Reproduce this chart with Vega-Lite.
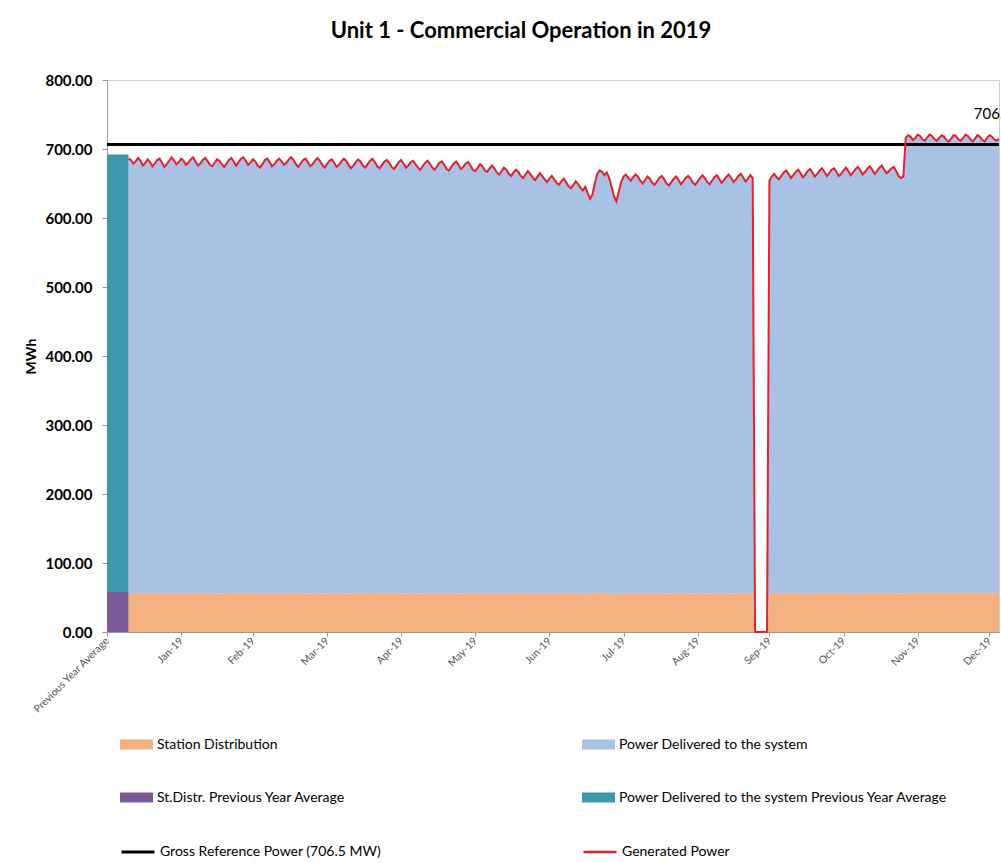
{
"$schema":"https://vega.github.io/schema/vega-lite/v6.json",
"width":892,"height":552,
"autosize":{"type":"none"},
"padding":{"left":107,"top":80,"right":2,"bottom":231},
"background":"white",
"config":{"view":{"stroke":"#cfcfcf","strokeWidth":1},"font":"Lato",
"legend":{"labelFont":"Lato","labelFontSize":14,"labelColor":"#000","symbolSize":1089,"labelOffset":4,"padding":0,"orient":"none","labelLimit":600},
"axis":{"grid":false}},
"title":{"text":"Unit 1 - Commercial Operation in 2019","font":"Lato","fontSize":22,"fontWeight":"bold","color":"#000","anchor":"middle","frame":"group","dx":-32,"offset":30},
"datasets":{
"daily":[
{"d":0,"g":686,"s":56},{"d":1,"g":684,"s":57},{"d":2,"g":679,"s":56},{"d":3,"g":682,"s":55},{"d":4,"g":687,"s":56},{"d":5,"g":683,"s":57},{"d":6,"g":676,"s":56},{"d":7,"g":680,"s":56},{"d":8,"g":685,"s":57},{"d":9,"g":681,"s":56},{"d":10,"g":675,"s":55},{"d":11,"g":679,"s":56},{"d":12,"g":684,"s":57},{"d":13,"g":686,"s":57},{"d":14,"g":680,"s":56},{"d":15,"g":674,"s":55},{"d":16,"g":678,"s":56},{"d":17,"g":683,"s":57},{"d":18,"g":688,"s":56},{"d":19,"g":684,"s":56},{"d":20,"g":678,"s":55},{"d":21,"g":681,"s":56},{"d":22,"g":686,"s":57},{"d":23,"g":683,"s":56},{"d":24,"g":677,"s":55},{"d":25,"g":680,"s":56},{"d":26,"g":685,"s":57},{"d":27,"g":688,"s":57},{"d":28,"g":682,"s":56},{"d":29,"g":676,"s":55},{"d":30,"g":679,"s":56},
{"d":31,"g":684,"s":57},{"d":32,"g":687,"s":56},{"d":33,"g":683,"s":56},{"d":34,"g":677,"s":55},{"d":35,"g":675,"s":56},{"d":36,"g":680,"s":57},{"d":37,"g":685,"s":56},{"d":38,"g":683,"s":56},{"d":39,"g":678,"s":55},{"d":40,"g":674,"s":56},{"d":41,"g":679,"s":57},{"d":42,"g":684,"s":56},{"d":43,"g":687,"s":57},{"d":44,"g":682,"s":56},{"d":45,"g":676,"s":55},{"d":46,"g":681,"s":56},{"d":47,"g":686,"s":57},{"d":48,"g":688,"s":56},{"d":49,"g":683,"s":56},{"d":50,"g":677,"s":55},{"d":51,"g":680,"s":56},{"d":52,"g":685,"s":57},{"d":53,"g":682,"s":56},{"d":54,"g":676,"s":55},{"d":55,"g":673,"s":56},{"d":56,"g":678,"s":56},{"d":57,"g":684,"s":57},{"d":58,"g":686,"s":56},
{"d":59,"g":681,"s":56},{"d":60,"g":675,"s":55},{"d":61,"g":678,"s":56},{"d":62,"g":683,"s":57},{"d":63,"g":686,"s":56},{"d":64,"g":682,"s":56},{"d":65,"g":677,"s":55},{"d":66,"g":680,"s":56},{"d":67,"g":685,"s":57},{"d":68,"g":688,"s":57},{"d":69,"g":684,"s":56},{"d":70,"g":678,"s":55},{"d":71,"g":674,"s":56},{"d":72,"g":679,"s":56},{"d":73,"g":684,"s":57},{"d":74,"g":686,"s":56},{"d":75,"g":681,"s":56},{"d":76,"g":675,"s":55},{"d":77,"g":678,"s":56},{"d":78,"g":683,"s":57},{"d":79,"g":687,"s":56},{"d":80,"g":683,"s":56},{"d":81,"g":677,"s":55},{"d":82,"g":673,"s":56},{"d":83,"g":678,"s":56},{"d":84,"g":683,"s":57},{"d":85,"g":685,"s":56},{"d":86,"g":680,"s":56},{"d":87,"g":674,"s":55},{"d":88,"g":677,"s":56},{"d":89,"g":682,"s":57},
{"d":90,"g":686,"s":56},{"d":91,"g":683,"s":56},{"d":92,"g":677,"s":55},{"d":93,"g":672,"s":56},{"d":94,"g":676,"s":56},{"d":95,"g":681,"s":57},{"d":96,"g":685,"s":56},{"d":97,"g":682,"s":56},{"d":98,"g":676,"s":55},{"d":99,"g":673,"s":56},{"d":100,"g":678,"s":57},{"d":101,"g":683,"s":56},{"d":102,"g":686,"s":57},{"d":103,"g":681,"s":56},{"d":104,"g":675,"s":55},{"d":105,"g":672,"s":56},{"d":106,"g":677,"s":56},{"d":107,"g":682,"s":57},{"d":108,"g":684,"s":56},{"d":109,"g":680,"s":56},{"d":110,"g":674,"s":55},{"d":111,"g":671,"s":56},{"d":112,"g":676,"s":56},{"d":113,"g":681,"s":57},{"d":114,"g":684,"s":56},{"d":115,"g":679,"s":56},{"d":116,"g":673,"s":55},{"d":117,"g":676,"s":56},{"d":118,"g":681,"s":57},{"d":119,"g":683,"s":56},
{"d":120,"g":678,"s":56},{"d":121,"g":673,"s":55},{"d":122,"g":670,"s":56},{"d":123,"g":675,"s":56},{"d":124,"g":680,"s":57},{"d":125,"g":683,"s":56},{"d":126,"g":679,"s":56},{"d":127,"g":673,"s":55},{"d":128,"g":670,"s":56},{"d":129,"g":675,"s":56},{"d":130,"g":680,"s":57},{"d":131,"g":682,"s":56},{"d":132,"g":677,"s":56},{"d":133,"g":671,"s":55},{"d":134,"g":669,"s":56},{"d":135,"g":674,"s":56},{"d":136,"g":679,"s":57},{"d":137,"g":682,"s":56},{"d":138,"g":677,"s":56},{"d":139,"g":671,"s":55},{"d":140,"g":674,"s":56},{"d":141,"g":679,"s":57},{"d":142,"g":681,"s":56},{"d":143,"g":676,"s":56},{"d":144,"g":670,"s":55},{"d":145,"g":668,"s":56},{"d":146,"g":673,"s":56},{"d":147,"g":678,"s":57},{"d":148,"g":675,"s":56},{"d":149,"g":669,"s":55},{"d":150,"g":667,"s":56},
{"d":151,"g":672,"s":56},{"d":152,"g":676,"s":57},{"d":153,"g":672,"s":56},{"d":154,"g":666,"s":55},{"d":155,"g":663,"s":56},{"d":156,"g":668,"s":56},{"d":157,"g":673,"s":57},{"d":158,"g":670,"s":56},{"d":159,"g":664,"s":55},{"d":160,"g":661,"s":56},{"d":161,"g":666,"s":56},{"d":162,"g":670,"s":57},{"d":163,"g":667,"s":56},{"d":164,"g":661,"s":55},{"d":165,"g":658,"s":56},{"d":166,"g":663,"s":56},{"d":167,"g":668,"s":57},{"d":168,"g":664,"s":56},{"d":169,"g":659,"s":55},{"d":170,"g":655,"s":56},{"d":171,"g":660,"s":56},{"d":172,"g":665,"s":57},{"d":173,"g":661,"s":56},{"d":174,"g":656,"s":55},{"d":175,"g":652,"s":56},{"d":176,"g":657,"s":56},{"d":177,"g":661,"s":57},{"d":178,"g":656,"s":56},{"d":179,"g":651,"s":55},{"d":180,"g":648,"s":56},
{"d":181,"g":653,"s":56},{"d":182,"g":657,"s":57},{"d":183,"g":652,"s":56},{"d":184,"g":646,"s":55},{"d":185,"g":643,"s":56},{"d":186,"g":648,"s":56},{"d":187,"g":653,"s":57},{"d":188,"g":649,"s":56},{"d":189,"g":644,"s":55},{"d":190,"g":640,"s":56},{"d":191,"g":645,"s":56},{"d":192,"g":636,"s":55},{"d":193,"g":628,"s":55},{"d":194,"g":634,"s":56},{"d":195,"g":650,"s":56},{"d":196,"g":664,"s":57},{"d":197,"g":669,"s":57},{"d":198,"g":667,"s":56},{"d":199,"g":662,"s":56},{"d":200,"g":666,"s":57},{"d":201,"g":658,"s":56},{"d":202,"g":645,"s":55},{"d":203,"g":632,"s":55},{"d":204,"g":624,"s":55},{"d":205,"g":638,"s":56},{"d":206,"g":652,"s":56},{"d":207,"g":660,"s":57},{"d":208,"g":663,"s":56},{"d":209,"g":658,"s":56},{"d":210,"g":654,"s":55},{"d":211,"g":659,"s":56},
{"d":212,"g":663,"s":57},{"d":213,"g":660,"s":56},{"d":214,"g":654,"s":55},{"d":215,"g":650,"s":56},{"d":216,"g":655,"s":56},{"d":217,"g":660,"s":57},{"d":218,"g":657,"s":56},{"d":219,"g":651,"s":55},{"d":220,"g":648,"s":56},{"d":221,"g":653,"s":56},{"d":222,"g":658,"s":57},{"d":223,"g":661,"s":56},{"d":224,"g":656,"s":56},{"d":225,"g":650,"s":55},{"d":226,"g":647,"s":56},{"d":227,"g":652,"s":56},{"d":228,"g":657,"s":57},{"d":229,"g":660,"s":56},{"d":230,"g":655,"s":56},{"d":231,"g":649,"s":55},{"d":232,"g":653,"s":56},{"d":233,"g":658,"s":57},{"d":234,"g":661,"s":56},{"d":235,"g":657,"s":56},{"d":236,"g":651,"s":55},{"d":237,"g":648,"s":56},{"d":238,"g":653,"s":56},{"d":239,"g":658,"s":57},{"d":240,"g":662,"s":56},{"d":241,"g":658,"s":56},{"d":242,"g":652,"s":55},
{"d":243,"g":649,"s":56},{"d":244,"g":654,"s":56},{"d":245,"g":659,"s":57},{"d":246,"g":662,"s":56},{"d":247,"g":657,"s":56},{"d":248,"g":651,"s":55},{"d":249,"g":655,"s":56},{"d":250,"g":660,"s":57},{"d":251,"g":663,"s":56},{"d":252,"g":658,"s":56},{"d":253,"g":652,"s":55},{"d":254,"g":656,"s":56},{"d":255,"g":661,"s":57},{"d":256,"g":664,"s":56},{"d":257,"g":659,"s":56},{"d":258,"g":653,"s":55},{"d":259,"g":657,"s":56},{"d":260,"g":662,"s":57},{"d":261,"g":658,"s":56},{"d":262,"g":0,"s":0},{"d":263,"g":0,"s":0},{"d":264,"g":0,"s":0},{"d":265,"g":0,"s":0},{"d":266,"g":0,"s":0},{"d":267,"g":0,"s":0},{"d":268,"g":654,"s":56},{"d":269,"g":660,"s":57},{"d":270,"g":664,"s":56},{"d":271,"g":659,"s":56},{"d":272,"g":656,"s":55},
{"d":273,"g":661,"s":56},{"d":274,"g":666,"s":57},{"d":275,"g":669,"s":56},{"d":276,"g":664,"s":56},{"d":277,"g":658,"s":55},{"d":278,"g":662,"s":56},{"d":279,"g":667,"s":57},{"d":280,"g":670,"s":56},{"d":281,"g":665,"s":56},{"d":282,"g":659,"s":55},{"d":283,"g":663,"s":56},{"d":284,"g":668,"s":57},{"d":285,"g":671,"s":56},{"d":286,"g":666,"s":56},{"d":287,"g":660,"s":55},{"d":288,"g":664,"s":56},{"d":289,"g":669,"s":57},{"d":290,"g":672,"s":56},{"d":291,"g":667,"s":56},{"d":292,"g":661,"s":55},{"d":293,"g":665,"s":56},{"d":294,"g":670,"s":57},{"d":295,"g":672,"s":56},{"d":296,"g":667,"s":56},{"d":297,"g":661,"s":55},{"d":298,"g":664,"s":56},{"d":299,"g":669,"s":57},{"d":300,"g":673,"s":56},{"d":301,"g":668,"s":56},{"d":302,"g":662,"s":55},{"d":303,"g":666,"s":56},
{"d":304,"g":671,"s":57},{"d":305,"g":674,"s":56},{"d":306,"g":669,"s":56},{"d":307,"g":663,"s":55},{"d":308,"g":667,"s":56},{"d":309,"g":672,"s":57},{"d":310,"g":675,"s":56},{"d":311,"g":670,"s":56},{"d":312,"g":664,"s":55},{"d":313,"g":668,"s":56},{"d":314,"g":673,"s":57},{"d":315,"g":676,"s":56},{"d":316,"g":670,"s":56},{"d":317,"g":665,"s":55},{"d":318,"g":668,"s":56},{"d":319,"g":672,"s":57},{"d":320,"g":674,"s":56},{"d":321,"g":668,"s":56},{"d":322,"g":661,"s":55},{"d":323,"g":658,"s":56},{"d":324,"g":660,"s":56},{"d":325,"g":716,"s":57},{"d":326,"g":720,"s":57},{"d":327,"g":718,"s":56},{"d":328,"g":713,"s":56},{"d":329,"g":716,"s":57},{"d":330,"g":721,"s":57},{"d":331,"g":719,"s":56},{"d":332,"g":714,"s":56},{"d":333,"g":712,"s":56},
{"d":334,"g":717,"s":57},{"d":335,"g":721,"s":57},{"d":336,"g":719,"s":56},{"d":337,"g":714,"s":56},{"d":338,"g":712,"s":56},{"d":339,"g":716,"s":57},{"d":340,"g":720,"s":57},{"d":341,"g":718,"s":56},{"d":342,"g":713,"s":56},{"d":343,"g":711,"s":56},{"d":344,"g":715,"s":57},{"d":345,"g":720,"s":57},{"d":346,"g":719,"s":56},{"d":347,"g":714,"s":56},{"d":348,"g":712,"s":56},{"d":349,"g":716,"s":57},{"d":350,"g":721,"s":57},{"d":351,"g":719,"s":56},{"d":352,"g":714,"s":56},{"d":353,"g":711,"s":56},{"d":354,"g":715,"s":57},{"d":355,"g":720,"s":57},{"d":356,"g":718,"s":56},{"d":357,"g":713,"s":56},{"d":358,"g":711,"s":56},{"d":359,"g":716,"s":57},{"d":360,"g":720,"s":57},{"d":361,"g":718,"s":56},{"d":362,"g":714,"s":56},{"d":363,"g":712,"s":56},{"d":364,"g":715,"s":57}
],
"prev":[{"from":-9,"to":0,"base":0,"sd":58,"gen":692}],
"ref":[{"d":364,"v":706.5,"label":"706.5"}]
},
"layer":[
{"data":{"name":"daily"},"mark":{"type":"area","interpolate":"linear"},
"encoding":{
"x":{"field":"d","type":"quantitative","title":null,"scale":{"domain":[-9,364],"nice":false,"zero":false},
"axis":{"values":[-9,22,52,83,114,145,176,207,238,268,299,330,360],
"labelExpr":"['Previous Year Average','Jan-19','Feb-19','Mar-19','Apr-19','May-19','Jun-19','Jul-19','Aug-19','Sep-19','Oct-19','Nov-19','Dec-19'][indexof([-9,22,52,83,114,145,176,207,238,268,299,330,360], datum.value)]",
"labelAngle":-45,"labelAlign":"right","labelBaseline":"middle","labelFontSize":10.5,"labelFont":"Lato","labelColor":"#555","labelFlush":false,"labelOverlap":false,"labelBound":false,"labelPadding":3,"tickSize":4,"tickColor":"#999","domainColor":"#999"}},
"y":{"field":"s","type":"quantitative","stack":null,"title":"MWh","scale":{"domain":[0,800],"nice":false},
"axis":{"values":[0,100,200,300,400,500,600,700,800],"format":".2f","labelFont":"Lato","labelFontSize":15,"labelFontWeight":"bold","labelColor":"#000","labelPadding":10,"tickSize":5,"tickColor":"#999","domainColor":"#999","titleFont":"Lato","titleFontSize":14,"titleFontWeight":"bold","titleColor":"#000","titlePadding":6}},
"fill":{"datum":"Station Distribution","scale":{"range":["#F4B07F"]},"legend":{"legendX":13,"legendY":648,"symbolType":"M-1,-0.3L1,-0.3L1,0.3L-1,0.3Z","symbolStrokeWidth":0,"symbolOpacity":1}}}},
{"data":{"name":"daily"},"mark":{"type":"area","interpolate":"linear"},
"encoding":{
"x":{"field":"d","type":"quantitative","title":null},
"y":{"field":"g","type":"quantitative","stack":null,"title":"MWh"},
"y2":{"field":"s"},
"fill":{"datum":"Power Delivered to the system","scale":{"range":["#A9C1E5"]},"legend":{"legendX":475,"legendY":648,"symbolType":"M-1,-0.3L1,-0.3L1,0.3L-1,0.3Z","symbolStrokeWidth":0,"symbolOpacity":1}}}},
{"data":{"name":"prev"},"mark":{"type":"bar"},
"encoding":{
"x":{"field":"from","type":"quantitative","title":null},"x2":{"field":"to"},
"y":{"field":"sd","type":"quantitative","stack":null,"title":"MWh"},"y2":{"field":"base"},
"fill":{"datum":"St.Distr. Previous Year Average","scale":{"range":["#7B5A9A"]},"legend":{"legendX":13,"legendY":701,"symbolType":"M-1,-0.3L1,-0.3L1,0.3L-1,0.3Z","symbolStrokeWidth":0,"symbolOpacity":1}}}},
{"data":{"name":"prev"},"mark":{"type":"bar"},
"encoding":{
"x":{"field":"from","type":"quantitative","title":null},"x2":{"field":"to"},
"y":{"field":"gen","type":"quantitative","stack":null,"title":"MWh"},"y2":{"field":"sd"},
"fill":{"datum":"Power Delivered to the system Previous Year Average","scale":{"range":["#3A98AA"]},"legend":{"legendX":475,"legendY":701,"symbolType":"M-1,-0.3L1,-0.3L1,0.3L-1,0.3Z","symbolStrokeWidth":0,"symbolOpacity":1}}}},
{"data":{"name":"ref"},"mark":{"type":"rule","strokeWidth":3},
"encoding":{
"y":{"field":"v","type":"quantitative","title":"MWh"},
"stroke":{"datum":"Gross Reference Power (706.5 MW)","scale":{"range":["#000000"]},"legend":{"legendX":13,"legendY":754,"symbolType":"stroke","symbolStrokeWidth":3}}}},
{"data":{"name":"daily"},"mark":{"type":"line","strokeWidth":2,"interpolate":"linear"},
"encoding":{
"x":{"field":"d","type":"quantitative","title":null},
"y":{"field":"g","type":"quantitative","title":"MWh"},
"stroke":{"datum":"Generated Power","scale":{"range":["#E3222B"]},"legend":{"legendX":475,"legendY":754,"symbolType":"stroke","symbolStrokeWidth":2.5}}}},
{"data":{"name":"ref"},"mark":{"type":"text","align":"center","baseline":"middle","dx":-6,"dy":-31,"fontSize":15,"font":"Lato","color":"#000"},
"encoding":{
"x":{"field":"d","type":"quantitative","title":null},
"y":{"field":"v","type":"quantitative","title":"MWh"},
"text":{"field":"label"}}}
],
"resolve":{"scale":{"fill":"independent","stroke":"independent"}}
}
